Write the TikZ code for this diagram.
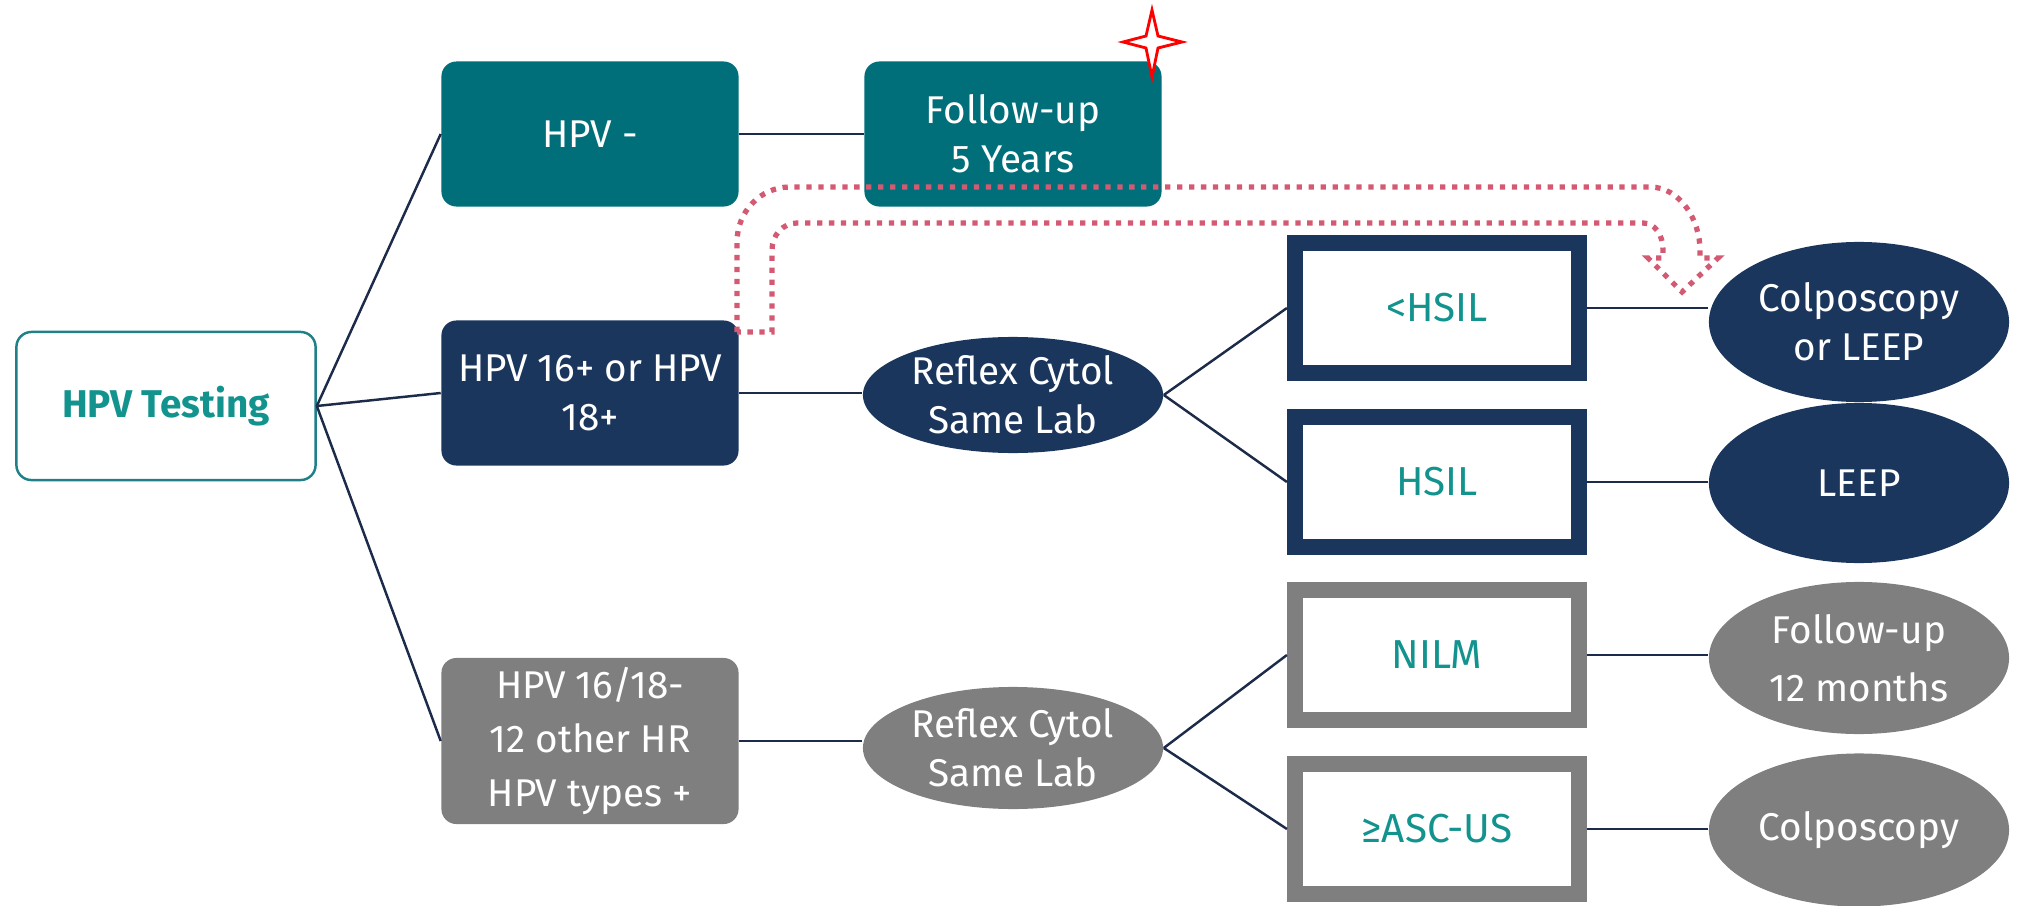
\documentclass[tikz,border=0pt]{standalone}
\usepackage{fontspec}
\setmainfont{Fira Sans}
\usepackage{xcolor}
\usetikzlibrary{shapes.geometric,calc}
\definecolor{tealbox}{HTML}{006F7A}
\definecolor{navybox}{HTML}{1B365D}
\definecolor{graybox}{HTML}{7F7F7F}
\definecolor{tealtext}{HTML}{13938E}
\definecolor{tealedge}{HTML}{1F8088}
\definecolor{linkcol}{HTML}{1D2B4A}
\definecolor{hintcol}{HTML}{D35A72}

\tikzset{
  start/.style={draw=tealedge,line width=0.7pt,rounded corners=0.15cm,minimum width=2.99cm,
    minimum height=1.48cm,text=tealtext,font=\fontsize{11}{14}\selectfont\bfseries},
  box/.style={rectangle,rounded corners=0.15cm,minimum width=2.97cm,minimum height=1.45cm,
    align=center,text=white,inner sep=2pt},
  oval/.style={ellipse,minimum width=3cm,minimum height=1.16cm,inner sep=0pt,align=center,text=white},
  res/.style={rectangle,line width=0.16cm,minimum width=2.84cm,minimum height=1.29cm,
    fill=white,text=tealtext,font=\fontsize{11.5}{14}\selectfont},
  link/.style={draw=linkcol,line width=0.7pt},
  hint/.style={draw=hintcol,line width=1.5pt,dash pattern=on 1.5pt off 1.9pt},
}

\begin{document}
\begin{tikzpicture}[x=0.01cm,y=-0.01cm,font=\fontsize{11}{14}\selectfont]
\useasboundingbox (0,0) rectangle (2020,906);

% first test
\node[start] (test) at (166,406) {HPV Testing};

% HPV results
\node[box,fill=tealbox] (neg) at (590,134) {HPV -};
\node[box,fill=tealbox] (fu5) at (1013,134) {Follow-up\\5 Years};
\node[box,fill=navybox] (pos) at (590,393) {HPV 16+ or HPV\\18+};
\node[box,fill=graybox,minimum height=1.66cm,font=\fontsize{11}{15.4}\selectfont] (oth) at (590,741) {HPV 16/18-\\12 other HR\\HPV types +};

% cytology
\node[oval,fill=navybox] (rc1) at (1013,395) {Reflex Cytol\\Same Lab};
\node[oval,fill=graybox,minimum height=1.22cm] (rc2) at (1013,748) {Reflex Cytol\\Same Lab};

\node[res,draw=navybox] (lhsil) at (1437,308) {<HSIL};
\node[res,draw=navybox] (hsil) at (1437,482) {HSIL};
\node[res,draw=graybox] (nilm) at (1437,655) {NILM};
\node[res,draw=graybox] (ascus) at (1437,829) {≥ASC-US};

% management
\node[oval,fill=navybox,minimum height=1.6cm] (colp1) at (1859,322) {Colposcopy\\or LEEP};
\node[oval,fill=navybox,minimum height=1.6cm] (leep) at (1859,483) {LEEP};
\node[oval,fill=graybox,minimum height=1.52cm,font=\fontsize{11}{16.5}\selectfont] (fu12) at (1859,658) {Follow-up\\12 months};
\node[oval,fill=graybox,minimum height=1.53cm] (colp2) at (1859,830) {Colposcopy};

% connectors
\draw[link] (test.east) -- (neg.west);
\draw[link] (test.east) -- (pos.west);
\draw[link] (test.east) -- (oth.west);
\draw[link] (neg) -- (fu5);
\draw[link] (pos.east) -- (pos.east -| rc1.west);
\draw[link] (oth.east) -- (oth.east -| rc2.west);
\draw[link] (rc1.east) -- (lhsil.west);
\draw[link] (rc1.east) -- (hsil.west);
\draw[link] (rc2.east) -- (nilm.west);
\draw[link] (rc2.east) -- (ascus.west);
\draw[link] (lhsil.east) -- (lhsil.east -| colp1.west);
\draw[link] (hsil.east) -- (hsil.east -| leep.west);
\draw[link] (nilm.east) -- (nilm.east -| fu12.west);
\draw[link] (ascus.east) -- (ascus.east -| colp2.west);

% hollow dotted arrow
\draw[hint] (737,332) -- (737,242) .. controls (737,212) and (760,187) .. (790,187)
  -- (1650,187) .. controls (1680,187) and (1700,220) .. (1700,250) -- (1700,258)
  -- (1718,258) -- (1682,292) -- (1648,258) -- (1663,258) -- (1663,250)
  .. controls (1663,235) and (1655,223) .. (1643,223) -- (797,223)
  .. controls (783,223) and (772,235) .. (772,250) -- (772,332) -- cycle;

% star mark
\draw[red,line width=0.8pt,fill=white] (1152,10) -- (1158,36) -- (1182,42) -- (1158,48)
  -- (1152,77) -- (1146,48) -- (1123,42) -- (1146,36) -- cycle;
\end{tikzpicture}
\end{document}
